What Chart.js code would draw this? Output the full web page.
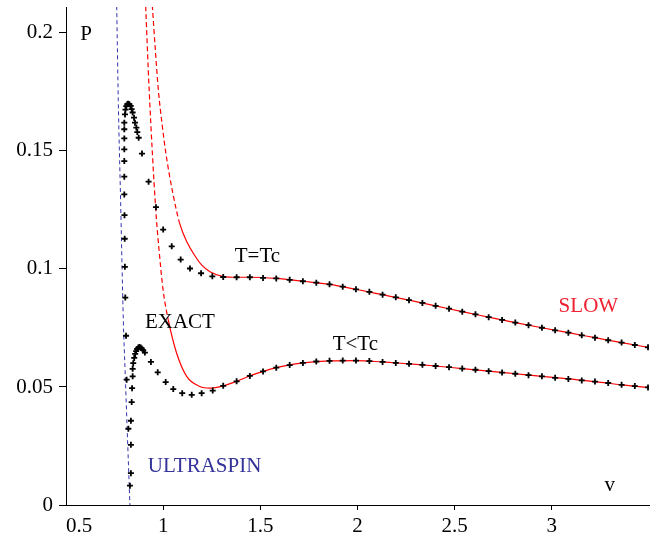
<!DOCTYPE html>
<html>
<head>
<meta charset="utf-8">
<script src="https://cdn.jsdelivr.net/npm/chart.js@4.4.0/dist/chart.umd.min.js"></script>
<style>
  html, body { margin: 0; padding: 0; background: #fff; }
</style>
</head>
<body>
<canvas id="pv" width="662" height="542"></canvas>
<script>
// ultraspin limit (blue dashed)
const ultraV = [0.761, 0.769, 0.781, 0.795, 0.804, 0.815, 0.829];
const ultraP = [0.2113, 0.1714, 0.1290, 0.0782, 0.0570, 0.0316, 0.0];

// slow rotation approximation (red), T = Tc
const slowTcV = [0.944, 0.960, 0.975, 0.995, 1.014, 1.05, 1.086, 1.125, 1.164, 1.2, 1.241, 1.309, 1.378, 1.446,
  1.582, 1.719, 1.856, 1.992, 2.129, 2.265, 2.402, 2.539, 2.675, 2.812, 2.949, 3.085, 3.222, 3.359, 3.495];
const slowTcP = [0.2118, 0.1925, 0.1760, 0.1610, 0.1490, 0.1320, 0.1190, 0.1110, 0.1055, 0.1015, 0.0988, 0.0968, 0.0965, 0.0965,
  0.0960, 0.0948, 0.0935, 0.0914, 0.0891, 0.0868, 0.0844, 0.0819, 0.0796, 0.0773, 0.0751, 0.0730, 0.0709, 0.0688, 0.0668];

// slow rotation approximation (red), T < Tc
const slowLowV = [0.910, 0.928, 0.961, 0.980, 1.0, 1.026, 1.069, 1.121, 1.189, 1.241, 1.309, 1.378, 1.446, 1.582,
  1.719, 1.856, 1.992, 2.129, 2.265, 2.402, 2.539, 2.675, 2.812, 2.949, 3.085, 3.222, 3.359, 3.495];
const slowLowP = [0.2113, 0.1757, 0.1262, 0.1070, 0.0909, 0.0785, 0.0644, 0.0545, 0.0502, 0.0495, 0.0505, 0.0524, 0.0547, 0.0582,
  0.0602, 0.0611, 0.0612, 0.0606, 0.0598, 0.0589, 0.0578, 0.0567, 0.0556, 0.0545, 0.0534, 0.0523, 0.0509, 0.0498];

// exact curve, T = Tc (crosses)
const exactTcV = [0.821, 0.812, 0.809, 0.805, 0.803, 0.802, 0.801, 0.800, 0.800, 0.800, 0.800, 0.800, 0.800, 0.800, 0.8035,
  0.806, 0.810, 0.815, 0.820, 0.826, 0.833, 0.838, 0.843, 0.850, 0.855, 0.862, 0.867, 0.874, 0.891, 0.925, 0.963,
  1.000, 1.044, 1.090, 1.138, 1.195, 1.253,
  1.309, 1.378, 1.446, 1.514, 1.582, 1.651, 1.719, 1.788, 1.856, 1.924, 1.992, 2.061, 2.129, 2.197, 2.265, 2.334,
  2.402, 2.471, 2.539, 2.607, 2.675, 2.744, 2.812, 2.880, 2.949, 3.017, 3.085, 3.154, 3.222, 3.290, 3.359, 3.427, 3.495];
const exactTcP = [0.0323, 0.0531, 0.0717, 0.0879, 0.1009, 0.1128, 0.1228, 0.1316, 0.1391, 0.1457, 0.1507, 0.1553, 0.1592, 0.1620, 0.1655,
  0.1675, 0.1690, 0.1698, 0.1700, 0.1698, 0.1691, 0.1677, 0.1663, 0.1641, 0.1620, 0.1599, 0.1580, 0.1556, 0.1489, 0.1370, 0.1262,
  0.1167, 0.1096, 0.1040, 0.1002, 0.0982, 0.0969,
  0.0966, 0.0965, 0.0965, 0.0962, 0.0960, 0.0954, 0.0948, 0.0942, 0.0935, 0.0925, 0.0914, 0.0903, 0.0891, 0.0880, 0.0868, 0.0856,
  0.0844, 0.0832, 0.0819, 0.0808, 0.0796, 0.0784, 0.0773, 0.0762, 0.0751, 0.0740, 0.0730, 0.0719, 0.0709, 0.0698, 0.0688, 0.0678, 0.0668];

// exact curve, T < Tc (crosses)
const exactLowV = [0.829, 0.834, 0.834, 0.834, 0.838, 0.840, 0.843, 0.843, 0.846, 0.851, 0.856, 0.861, 0.866, 0.872, 0.878,
  0.884, 0.890, 0.897, 0.906, 0.937, 0.972, 1.013, 1.052, 1.098, 1.147, 1.198, 1.255,
  1.309, 1.378, 1.446, 1.514, 1.582, 1.651, 1.719, 1.788, 1.856, 1.924, 1.992, 2.061, 2.129, 2.197, 2.265, 2.334,
  2.402, 2.471, 2.539, 2.607, 2.675, 2.744, 2.812, 2.880, 2.949, 3.017, 3.085, 3.154, 3.222, 3.290, 3.359, 3.427, 3.495];
const exactLowP = [0.0082, 0.0135, 0.0255, 0.0357, 0.0436, 0.0495, 0.0545, 0.0577, 0.0601, 0.0623, 0.0640, 0.0652, 0.0661, 0.0667, 0.0669,
  0.0667, 0.0663, 0.0656, 0.0646, 0.0606, 0.0562, 0.0521, 0.0491, 0.0474, 0.0467, 0.0474, 0.0485,
  0.0505, 0.0524, 0.0547, 0.0566, 0.0582, 0.0593, 0.0602, 0.0608, 0.0611, 0.0612, 0.0612, 0.0610, 0.0606, 0.0602, 0.0598, 0.0594,
  0.0589, 0.0584, 0.0578, 0.0573, 0.0567, 0.0561, 0.0556, 0.0550, 0.0545, 0.0539, 0.0534, 0.0528, 0.0523, 0.0517, 0.0509, 0.0504, 0.0498];

const xTickLabels = ["0.5", "1", "1.5", "2", "2.5", "3"];
const yTickLabels = ["0", "0.05", "0.1", "0.15", "0.2"];

// text placed in the plot (data coordinates)
const notes = [
  { text: "P", v: 0.603, p: 0.1994, color: "#000" },
  { text: "v", v: 3.298, p: 0.0083, color: "#000" },
  { text: "T=Tc", v: 1.485, p: 0.1051, color: "#000" },
  { text: "T<Tc", v: 1.989, p: 0.0682, color: "#000" },
  { text: "EXACT", v: 1.086, p: 0.0773, color: "#000" },
  { text: "SLOW", v: 3.188, p: 0.0843, color: "#f02030" },
  { text: "ULTRASPIN", v: 1.213, p: 0.0163, color: "#333399" }
];

const FONT = "'Liberation Serif', 'Times New Roman', serif";
const toPoints = (xs, ys) => xs.map((x, i) => ({ x: x, y: ys[i] }));
const near = (a, b) => Math.abs(a - b) < 1e-6;
const isMultiple = (v, step) => near(v / step, Math.round(v / step));
const findLabel = (list, value) => list.find(s => near(Number(s), value));

// steep parts of the red curves come out dashed in the original
const steepDash = {
  borderDash: c => {
    const dx = Math.abs(c.p1.x - c.p0.x), dy = Math.abs(c.p1.y - c.p0.y);
    return dy > 4 * dx ? [5, 3] : undefined;
  }
};

const axisExtras = {
  id: "axisExtras",
  afterDraw(chart) {
    const ctx = chart.ctx;
    const xs = chart.scales.x, ys = chart.scales.y;
    ctx.save();
    ctx.strokeStyle = "#000";
    ctx.lineWidth = 1;
    // minor ticks
    xs.ticks.forEach(t => {
      if (isMultiple(t.value, 0.5) || !isMultiple(t.value, 0.1)) return;
      const px = Math.round(xs.getPixelForValue(t.value)) + 0.5;
      ctx.beginPath(); ctx.moveTo(px, xs.top); ctx.lineTo(px, xs.top + 3); ctx.stroke();
    });
    ys.ticks.forEach(t => {
      if (isMultiple(t.value, 0.05) || !isMultiple(t.value, 0.01)) return;
      const py = Math.round(ys.getPixelForValue(t.value)) + 0.5;
      ctx.beginPath(); ctx.moveTo(ys.right, py); ctx.lineTo(ys.right - 4, py); ctx.stroke();
    });
    // first x label sits to the right of its tick
    ctx.font = "21px " + FONT;
    ctx.fillStyle = "#000";
    ctx.textAlign = "left";
    ctx.textBaseline = "top";
    ctx.fillText(xTickLabels[0], xs.getPixelForValue(Number(xTickLabels[0])), xs.top + 11);
    // annotations
    ctx.textAlign = "center";
    ctx.textBaseline = "middle";
    notes.forEach(n => {
      ctx.fillStyle = n.color;
      ctx.fillText(n.text, xs.getPixelForValue(n.v), ys.getPixelForValue(n.p));
    });
    ctx.restore();
  }
};

new Chart(document.getElementById("pv"), {
  type: "scatter",
  data: {
    datasets: [
      {
        data: toPoints(exactTcV, exactTcP),
        pointStyle: "cross", pointRadius: 3, pointBorderWidth: 1.8,
        borderColor: "#000", backgroundColor: "#000", showLine: false, order: 0
      },
      {
        data: toPoints(exactLowV, exactLowP),
        pointStyle: "cross", pointRadius: 3, pointBorderWidth: 1.8,
        borderColor: "#000", backgroundColor: "#000", showLine: false, order: 0
      },
      {
        data: toPoints(slowTcV, slowTcP),
        showLine: true, borderColor: "#ff0000", borderWidth: 1.2, pointRadius: 0,
        cubicInterpolationMode: "monotone", segment: steepDash, order: 1
      },
      {
        data: toPoints(slowLowV, slowLowP),
        showLine: true, borderColor: "#ff0000", borderWidth: 1.2, pointRadius: 0,
        cubicInterpolationMode: "monotone", segment: steepDash, order: 1
      },
      {
        data: toPoints(ultraV, ultraP),
        showLine: true, borderColor: "#3333aa", borderWidth: 1, borderDash: [4, 3], pointRadius: 0,
        cubicInterpolationMode: "monotone", order: 2
      }
    ]
  },
  options: {
    responsive: false,
    animation: false,
    layout: { padding: { top: 7, right: 13, left: 0, bottom: 0 } },
    plugins: { legend: { display: false }, tooltip: { enabled: false } },
    scales: {
      x: {
        type: "linear", min: 0.5, max: 3.5,
        afterFit: s => { s.height = 37; s.paddingLeft = 0; s.paddingRight = 0; },
        border: { color: "#000", width: 1 },
        grid: {
          drawOnChartArea: false, drawTicks: true, tickLength: 5,
          tickColor: c => (c.tick && isMultiple(c.tick.value, 0.5)) ? "#000" : "rgba(0,0,0,0)"
        },
        ticks: {
          stepSize: 0.1, autoSkip: false, maxRotation: 0, padding: 4,
          color: "#000", font: { family: FONT, size: 21 },
          callback: (value, i) => {
            if (i === 0) return null;
            const lbl = findLabel(xTickLabels, value);
            return lbl === undefined ? null : lbl;
          }
        }
      },
      y: {
        type: "linear", min: 0, max: 0.211,
        afterFit: s => { s.width = 66; s.paddingTop = 0; s.paddingBottom = 0; },
        border: { color: "#000", width: 1 },
        grid: {
          drawOnChartArea: false, drawTicks: true, tickLength: 7,
          tickColor: c => (c.tick && isMultiple(c.tick.value, 0.05)) ? "#000" : "rgba(0,0,0,0)"
        },
        ticks: {
          stepSize: 0.01, autoSkip: false, padding: 6,
          color: "#000", font: { family: FONT, size: 21 },
          callback: value => {
            const lbl = findLabel(yTickLabels, value);
            return lbl === undefined ? null : lbl;
          }
        }
      }
    }
  },
  plugins: [axisExtras]
});
</script>
</body>
</html>
